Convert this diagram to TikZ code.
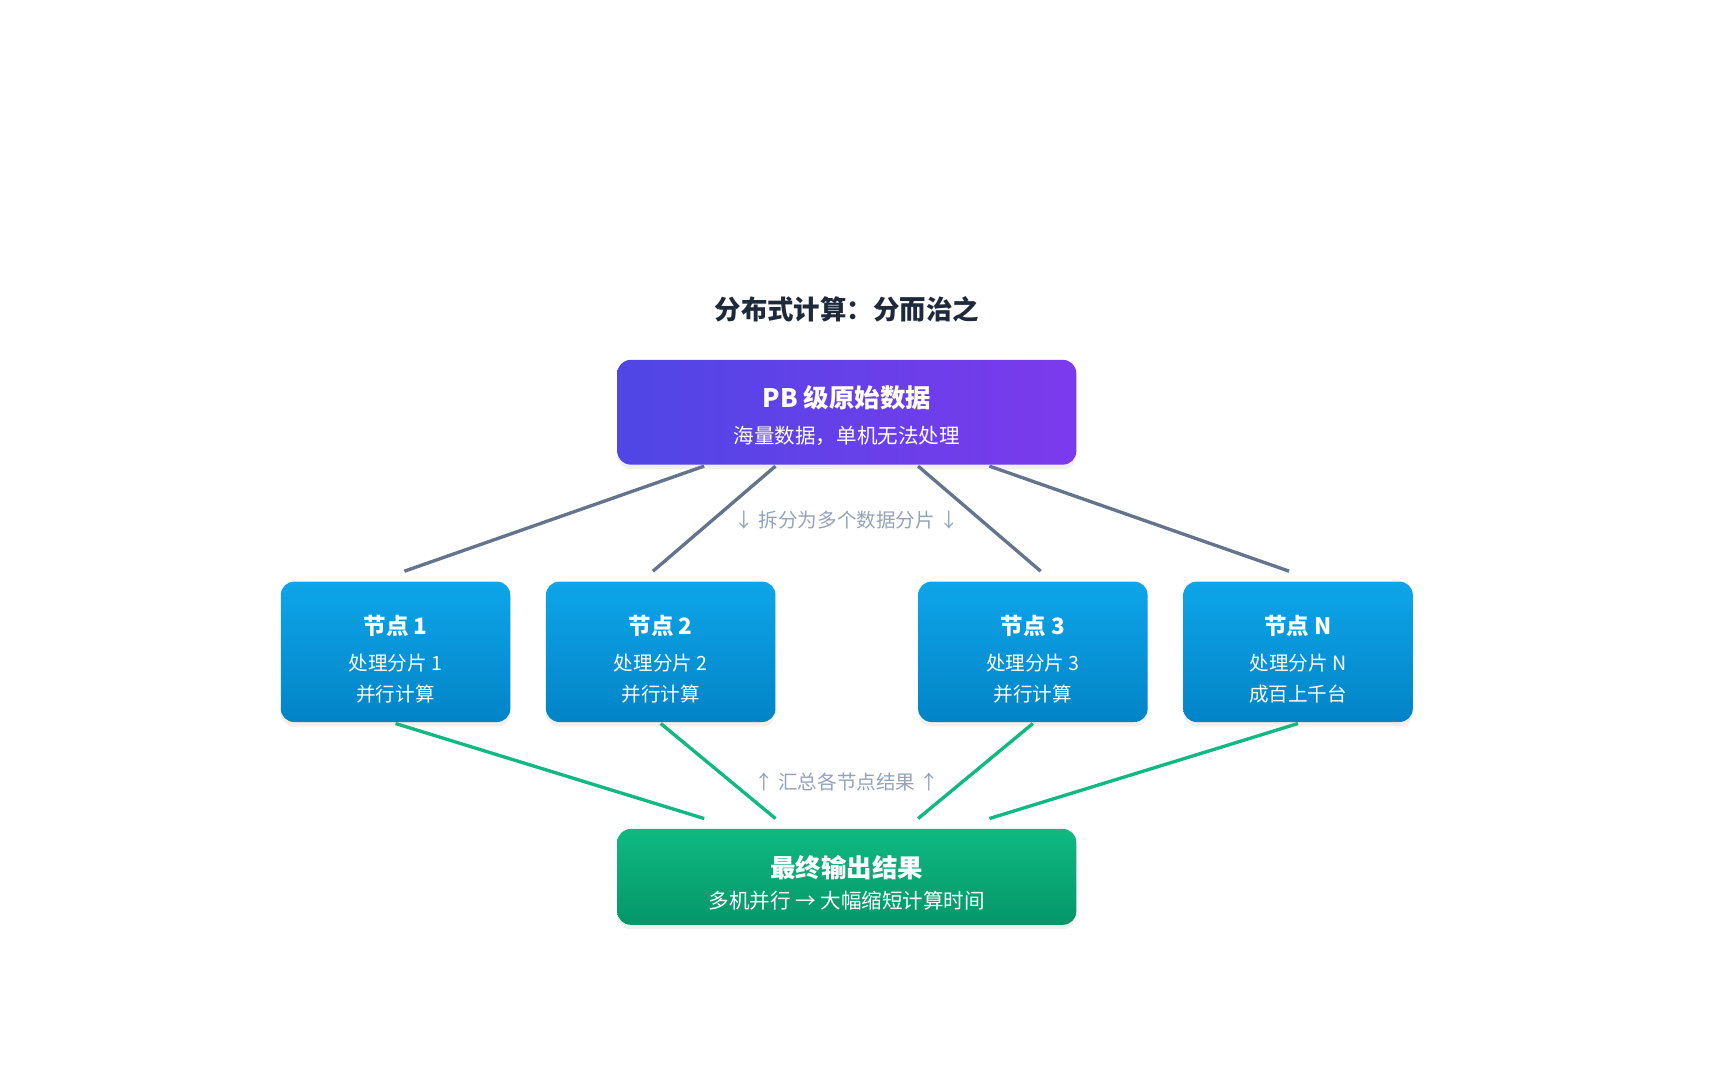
\documentclass[tikz,border=0pt]{standalone}
\usepackage{fontspec}
\setmainfont{Noto Sans CJK SC}
\usepackage{tikz}
\usetikzlibrary{calc,shadows}
\definecolor{pfrom}{HTML}{4F46E5}
\definecolor{pto}{HTML}{7C3AED}
\definecolor{bfrom}{HTML}{0EA5E9}
\definecolor{bto}{HTML}{0284C7}
\definecolor{gfrom}{HTML}{10B981}
\definecolor{gto}{HTML}{059669}
\definecolor{split}{HTML}{64748B}
\definecolor{hint}{HTML}{94A3B8}
\definecolor{ink}{HTML}{1E293B}
\tikzset{
    box/.style={rounded corners=12*0.02cm, draw=none, inner sep=0pt,
        drop shadow={opacity=0.12, shadow xshift=0pt, shadow yshift=-4*0.02cm}},
    wide/.style={box, minimum width=412*0.02cm, text width=400*0.02cm, align=center},
    worker/.style={box, top color=bfrom, bottom color=bto, minimum width=206*0.02cm,
        minimum height=126*0.02cm, text width=200*0.02cm, align=center},
    head/.style={font=\bfseries\fontsize{12}{14}\selectfont, text=white},
    sub/.style={font=\fontsize{10.5}{14}\selectfont, text=white},
    hint/.style={font=\fontsize{10}{12}\selectfont, text=hint},
    fork/.style={line width=3*0.02cm, split},
    merge/.style={line width=3*0.02cm, gfrom}
}
\begin{document}
\begin{tikzpicture}[x=0.02cm, y=-0.02cm]
        \useasboundingbox (0,0) rectangle (1550,959);
        % title
        \node[font=\bfseries\fontsize{13.5}{16}\selectfont, text=ink] (title) at (760,278) {分布式计算：分而治之};
        % source
        \node[wide, minimum height=94*0.02cm, left color=pfrom, right color=pto] (src) at (760,370) {};
        \node[head, font=\bfseries\fontsize{13}{15}\selectfont] (srcA) at (760,357) {PB 级原始数据};
        \node[sub] (srcB) at (760,391) {海量数据，单机无法处理};
        % workers
        \node[worker] (w1) at (355,585) {};
        \node[worker] (w2) at (593,585) {};
        \node[worker] (w3) at (927,585) {};
        \node[worker] (wn) at (1165,585) {};
        \foreach \w/\a/\b/\c in {w1/节点 1/处理分片 1/并行计算, w2/节点 2/处理分片 2/并行计算,
            w3/节点 3/处理分片 3/并行计算, wn/节点 N/处理分片 N/成百上千台}{
            \node[head, font=\bfseries\fontsize{11.5}{14}\selectfont] at ($(\w)+(0,-23)$) {\a};
            \node[sub, font=\fontsize{10}{12}\selectfont] at ($(\w)+(0,10)$) {\b};
            \node[sub, font=\fontsize{10}{12}\selectfont] at ($(\w)+(0,38)$) {\c};
        }
        % sink
        \node[wide, minimum height=86*0.02cm, top color=gfrom, bottom color=gto] (sink) at (760,787) {};
        \node[head, font=\bfseries\fontsize{13}{15}\selectfont] (sinkA) at (760,779) {最终输出结果};
        \node[sub] (sinkB) at (760,808) {多机并行 → 大幅缩短计算时间};
        % split lines
        \foreach \dx/\w/\ex in {-128/w1/8, -64/w2/-7, 64/w3/7, 128/wn/-8}{
            \coordinate (a) at ($(src.south)+(\dx,1)$);
            \coordinate (b) at ($(\w.north)+(\ex,-9)$);
            \draw[fork] (a) -- (b);
        }
        \node[hint] (splitlbl) at (760,467) {↓ 拆分为多个数据分片 ↓};
        % merge lines
        \foreach \dx/\w in {-128/w1, -64/w2, 64/w3, 128/wn}{
            \coordinate (c) at ($(\w.south)+(0,1)$);
            \coordinate (d) at ($(sink.north)+(\dx,-9)$);
            \draw[merge] (c) -- (d);
        }
        \node[hint] (mergelbl) at (760,702) {↑ 汇总各节点结果 ↑};
\end{tikzpicture}
\end{document}
